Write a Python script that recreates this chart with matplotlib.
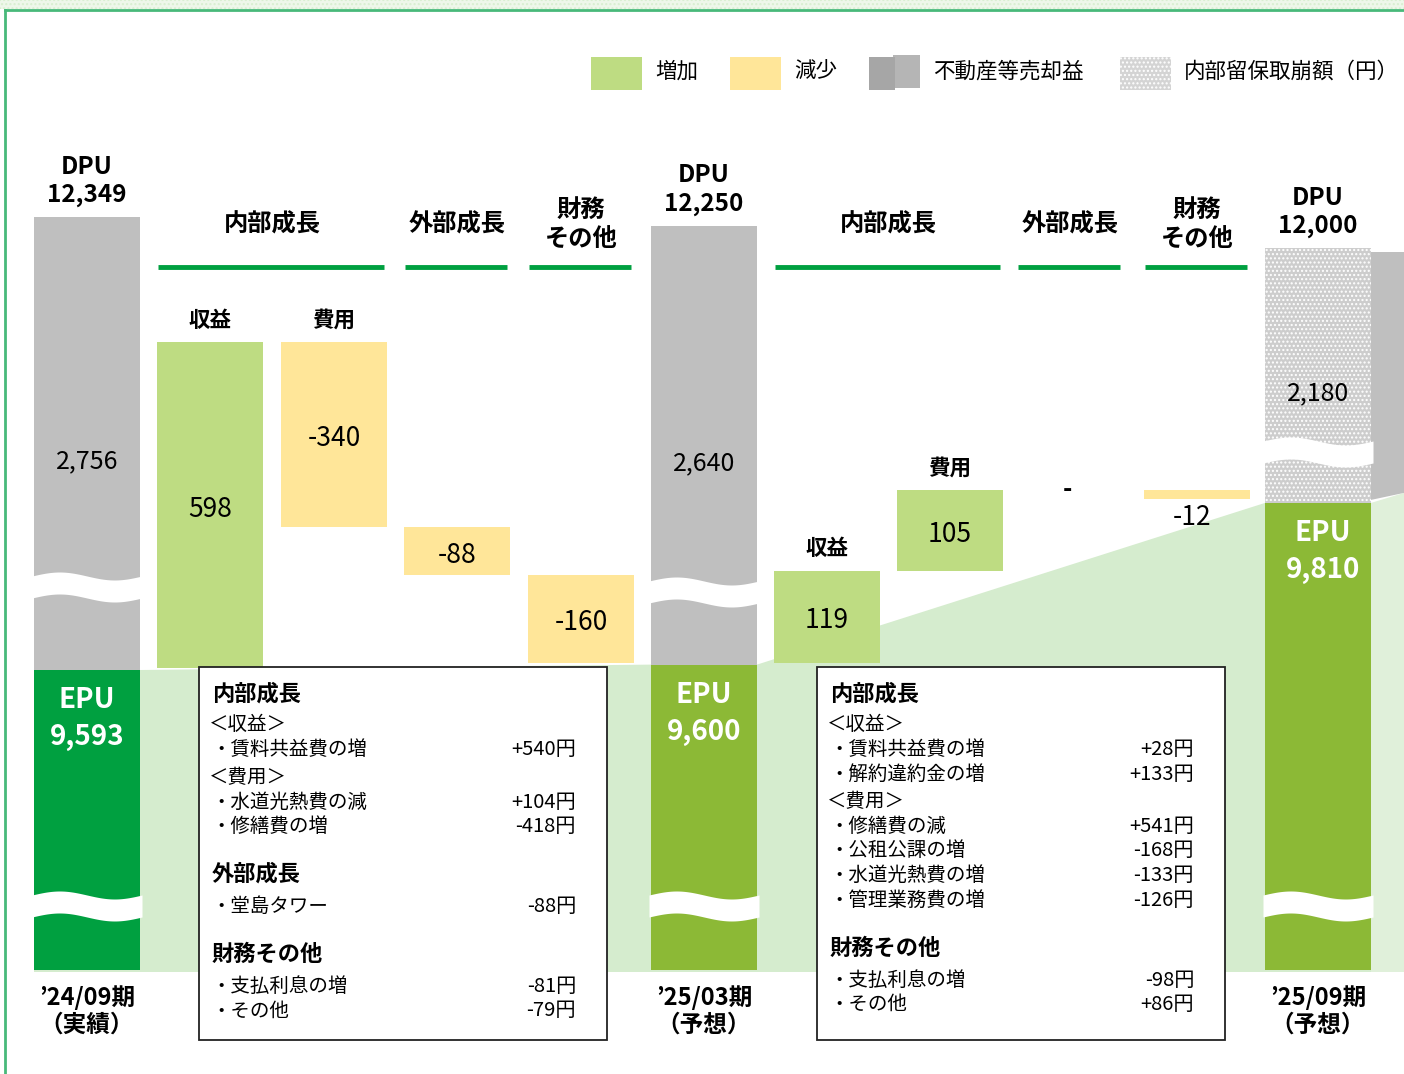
import numpy as np
import matplotlib.pyplot as plt
from matplotlib.patches import Rectangle, Polygon

plt.rcParams['font.family'] = ['Noto Sans CJK JP', 'DejaVu Sans']

# --- data -------------------------------------------------------------
periods = ["’24/09期\n（実績）", "’25/03期\n（予想）", "’25/09期\n（予想）"]
epu = [9593, 9600, 9810]
dpu = [12349, 12250, 12000]
gray_labels = ["2,756", "2,640", "2,180"]     # 不動産等売却益 / 内部留保取崩額

steps_1 = [598, -340, -88, -160]
steps_2 = [119, 105, 0, -12]
tags_1 = ["収益", "費用", "", ""]
tags_2 = ["収益", "費用", "", ""]
sections = ["内部成長", "外部成長", "財務\nその他"]

legend_names = ["増加", "減少", "不動産等売却益", "内部留保取崩額（円）"]

box_1 = [("h", "内部成長"),
         ("s", "＜収益＞"),
         ("i", "・賃料共益費の増", "+540円"),
         ("s", "＜費用＞"),
         ("i", "・水道光熱費の減", "+104円"),
         ("i", "・修繕費の増", "-418円"),
         ("h", "外部成長"),
         ("i", "・堂島タワー", "-88円"),
         ("h", "財務その他"),
         ("i", "・支払利息の増", "-81円"),
         ("i", "・その他", "-79円")]
box_2 = [("h", "内部成長"),
         ("s", "＜収益＞"),
         ("i", "・賃料共益費の増", "+28円"),
         ("i", "・解約違約金の増", "+133円"),
         ("s", "＜費用＞"),
         ("i", "・修繕費の減", "+541円"),
         ("i", "・公租公課の増", "-168円"),
         ("i", "・水道光熱費の増", "-133円"),
         ("i", "・管理業務費の増", "-126円"),
         ("h", "財務その他"),
         ("i", "・支払利息の増", "-98円"),
         ("i", "・その他", "+86円")]

# --- colours / layout -------------------------------------------------
c_up = "#bedc82"
c_down = "#ffe699"
c_gray = "#bfbfbf"
c_epu = ["#00a040", "#8cb936", "#8cb936"]
c_bg = "#d5ecce"
c_line = "#00a040"

W = 106
x_main = [87, 704, 1318]
x_steps_1 = [210, 334, 457, 581]
x_steps_2 = [827, 950, 1070, 1197]
base_px = 970
k_epu = 0.77      # px per yen for EPU tops (broken axis)
k_wf1 = 0.545     # px per yen, first waterfall
k_wf2 = 0.77      # px per yen, second waterfall


def epu_px(v):
    return 670 - (v - epu[0]) * k_epu


def dpu_px(v):
    return 248 - (v - dpu[-1]) * 0.09


fig = plt.figure(figsize=(14.04, 10.74), dpi=100)
ax = fig.add_axes([0, 0, 1, 1])
ax.set_xlim(0, 1404)
ax.set_ylim(1074, 0)
ax.axis('off')


def txt(x, y, s, gap=28, **kw):
    for i, line in enumerate(s.split("\n")):
        ax.text(x, y + i * gap, line, ha='center', va='center', zorder=6, **kw)


def wave(xc, yc, w=W + 4, thick=22):
    xs = np.linspace(xc - w / 2, xc + w / 2, 60)
    t = (xs - xs[0]) / (xs[-1] - xs[0])
    top = yc - thick / 2 - 4 * np.sin(2 * np.pi * t)
    ax.fill_between(xs, top, top + thick, color="white", lw=0, zorder=4)


# frame
ax.add_patch(Rectangle((0, 0), 1404, 9, facecolor="#eef7ea", edgecolor="#d8efd0",
                       hatch="....", lw=0, zorder=0))
ax.plot([5, 1404], [10, 10], color="#48b97a", lw=2, zorder=1)
ax.plot([5, 5], [10, 1074], color="#48b97a", lw=2, zorder=1)

# legend
lx = [591, 730, 869, 1120]
for i, name in enumerate(legend_names):
    if i == 0:
        ax.add_patch(Rectangle((lx[i], 57), 51, 33, color=c_up, lw=0))
    elif i == 1:
        ax.add_patch(Rectangle((lx[i], 57), 51, 33, color=c_down, lw=0))
    elif i == 2:
        ax.add_patch(Rectangle((lx[i] + 24, 55), 27, 33, color="#b5b5b5", lw=0))
        ax.add_patch(Rectangle((lx[i], 57), 26, 33, color="#a6a6a6", lw=0))
    else:
        ax.add_patch(Rectangle((lx[i], 57), 51, 33, facecolor="#d4d4d4", edgecolor="white",
                               hatch="....", lw=0))
    ax.text(lx[i] + 64, 72, name, ha='left', va='center', fontsize=15.5)

# light green EPU area
epu_tops = [epu_px(v) for v in epu]
pts = [(x_main[0] - W / 2, epu_tops[0]), (x_main[0] + W / 2, epu_tops[0]),
       (x_main[1] - W / 2, epu_tops[1]), (x_main[1] + W / 2, epu_tops[1]),
       (x_main[2] - W / 2, epu_tops[2]), (x_main[2] + W / 2, epu_tops[2]),
       (x_main[2] + W / 2, base_px + 2), (x_main[0] - W / 2, base_px + 2)]
ax.add_patch(Polygon(pts, closed=True, color=c_bg, lw=0, zorder=1))
ax.add_patch(Polygon([(x_main[2] + W / 2, epu_tops[2]), (1404, epu_tops[2] - 10),
                      (1404, base_px + 2), (x_main[2] + W / 2, base_px + 2)],
                     closed=True, color="#e0f0da", lw=0, zorder=1))
# next bar peeking in at right edge
ax.add_patch(Polygon([(x_main[2] + W / 2, 252), (1404, 252), (1404, epu_tops[2] - 10),
                      (x_main[2] + W / 2, epu_tops[2] - 3)],
                     closed=True, color=c_gray, lw=0, zorder=1))

# main bars: EPU + gray part
for i in range(3):
    top_e = epu_tops[i]
    top_d = dpu_px(dpu[i])
    ax.bar(x_main[i], base_px - top_e, bottom=top_e, width=W, color=c_epu[i], lw=0, zorder=2)
    if i < 2:
        ax.bar(x_main[i], top_e - top_d, bottom=top_d, width=W, color=c_gray, lw=0, zorder=2)
    else:
        ax.bar(x_main[i], top_e - top_d, bottom=top_d, width=W, facecolor="#cdcdcd",
               edgecolor="white", hatch="....", lw=0, zorder=2)
    mid = (top_d + top_e) / 2
    ax.text(x_main[i], mid + 18, gray_labels[i], ha='center', va='center', fontsize=18, zorder=6)
    txt(x_main[i], top_d - 50, "DPU\n{:,}".format(dpu[i]), gap=28, fontsize=17.5, fontweight='bold')
    txt(x_main[i] + (5 if i == 2 else 0), top_e + 30, "EPU\n{:,}".format(epu[i]), gap=37,
        fontsize=20, fontweight='bold', color="white")
    txt(x_main[i], 998, periods[i], gap=27, fontsize=17, fontweight='bold')
    wave(x_main[i], 906)

wave(x_main[0], 587)
wave(x_main[1], 592)
wave(x_main[2], 452)


# waterfalls
def waterfall(steps, tags, xs, start_v, start_px, k):
    cum = start_v
    for s, tag, x in zip(steps, tags, xs):
        y0 = start_px - (cum - start_v) * k
        y1 = start_px - (cum + s - start_v) * k
        cum += s
        top, bot = min(y0, y1), max(y0, y1)
        if s == 0:
            ax.text(x - 3, top, "-", ha='center', va='center', fontsize=18, fontweight='bold', zorder=6)
            continue
        ax.bar(x, bot - top, bottom=top, width=W, color=c_up if s > 0 else c_down, lw=0, zorder=2)
        if bot - top > 40:
            ax.text(x, (top + bot) / 2 + 4, "{:d}".format(s), ha='center', va='center', fontsize=19, zorder=6)
        else:
            ax.text(x - 5, bot + 18, "{:d}".format(s), ha='center', va='center', fontsize=19, zorder=6)
        if tag:
            ax.text(x, top - 22, tag, ha='center', va='center', fontsize=15.5, fontweight='bold', zorder=6)


waterfall(steps_1, tags_1, x_steps_1, epu[0], epu_tops[0] - 2, k_wf1)
waterfall(steps_2, tags_2, x_steps_2, epu[1], epu_tops[1] - 2, k_wf2)

# section headers
for xs_ in (x_steps_1, x_steps_2):
    groups = [(xs_[0], xs_[1]), (xs_[2], xs_[2]), (xs_[3], xs_[3])]
    for name, (a, b) in zip(sections, groups):
        xc = (a + b) / 2
        nl = name.count("\n")
        txt(xc, 225 - 15 * nl, name, gap=30, fontsize=17.5, fontweight='bold')
        ax.plot([a - 52, b + 50], [267, 267], color=c_line, lw=3.5, solid_capstyle='butt', zorder=3)


# explanation boxes
def box(x0, entries):
    ax.add_patch(Rectangle((x0, 667), 408, 373, facecolor="white", edgecolor="#222222",
                           lw=1.3, zorder=5))
    y = 694
    prev = None
    for e in entries:
        kind = e[0]
        if prev is not None:
            if kind == "h":
                y += 48
            elif prev == "h":
                y += 31 if kind == "s" else 32
            elif kind == "s":
                y += 28
            else:
                y += 24.5
        if kind == "h":
            ax.text(x0 + 13, y, e[1], ha='left', va='center', fontsize=16, fontweight='bold', zorder=6)
        elif kind == "s":
            ax.text(x0 + 10, y, e[1], ha='left', va='center', fontsize=14, zorder=6)
        else:
            ax.text(x0 + 12, y, e[1], ha='left', va='center', fontsize=14, zorder=6)
            ax.text(x0 + 377, y, e[2], ha='right', va='center', fontsize=14.5, zorder=6)
        prev = kind


box(199, box_1)
box(817, box_2)

fig.savefig("out.png", dpi=100, facecolor="white")
